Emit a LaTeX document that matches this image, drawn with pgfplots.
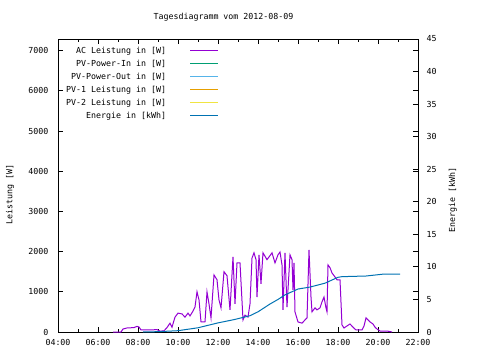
\documentclass[border=0pt]{standalone}
\usepackage{fontspec}
\setmainfont{DejaVu Sans Mono}
\usepackage{pgfplots}
\pgfplotsset{compat=1.18}
\definecolor{cAC}{HTML}{9400D3}
\definecolor{cPIn}{HTML}{009E73}
\definecolor{cPOut}{HTML}{56B4E9}
\definecolor{cPVa}{HTML}{E69F00}
\definecolor{cPVb}{HTML}{F0E442}
\definecolor{cEn}{HTML}{0072B2}
\pgfplotstableread{
h W
6.75 0
7.15 0
7.25 75
7.45 100
7.8 110
7.95 140
8.05 125
8.15 50
8.6 50
8.95 60
9.1 20
9.3 30
9.45 110
9.6 220
9.7 120
9.85 370
10.0 470
10.2 450
10.35 370
10.5 470
10.6 400
10.75 520
10.85 620
10.95 1000
11.05 800
11.15 250
11.35 250
11.45 1000
11.55 700
11.65 350
11.8 1420
11.95 1300
12.05 800
12.15 600
12.3 1500
12.45 1400
12.6 550
12.75 1870
12.85 700
12.95 1720
13.1 1720
13.25 300
13.35 420
13.5 370
13.6 700
13.7 1840
13.8 1970
13.9 1800
13.95 870
14.05 1920
14.15 1200
14.25 1970
14.45 1800
14.6 1900
14.7 1970
14.85 1720
15.0 1920
15.1 1990
15.2 1670
15.25 550
15.35 1970
15.45 620
15.6 1920
15.7 1800
15.75 1050
15.8 1720
15.85 500
16.0 250
16.2 220
16.35 300
16.45 350
16.55 2040
16.65 870
16.7 500
16.85 600
16.95 550
17.1 600
17.2 750
17.3 870
17.4 600
17.45 500
17.5 1670
17.6 1600
17.7 1470
17.85 1370
17.95 1300
18.1 1300
18.2 175
18.3 100
18.45 150
18.6 200
18.75 120
18.9 50
19.2 50
19.3 150
19.4 350
19.5 300
19.6 250
19.75 200
19.85 120
19.95 75
20.1 25
20.5 20
20.7 0
}\acdata
\pgfplotstableread{
h E
8.25 0
9.0 0.05
10.0 0.2
11.0 0.65
12.0 1.4
12.8 1.9
13.6 2.5
14.0 3.1
14.6 4.3
15.0 5.0
15.35 5.7
16.0 6.6
16.6 6.9
17.35 7.5
18.0 8.4
18.2 8.5
19.4 8.6
20.0 8.8
20.3 8.9
21.1 8.9
}\endata
\begin{document}
\begin{tikzpicture}[x=1pt,y=1pt,font=\fontsize{8.3}{10}\selectfont]
\useasboundingbox (0,0) rectangle (480,360);
\node at (223.5,343) {Tagesdiagramm vom 2012-08-09};
\begin{axis}[at={(58pt,28pt)}, anchor=south west, scale only axis,
  width=360pt, height=293pt,
  xmin=4, xmax=22, ymin=0, ymax=7290,
  xtick={4,6,...,22},
  xticklabels={04:00,06:00,08:00,10:00,12:00,14:00,16:00,18:00,20:00,22:00},
  minor xtick={5,7,...,21},
  ytick={0,1000,...,7000},
  tick align=inside,
  major tick length=5pt, minor tick length=3pt,
  every tick/.style={black, line width=0.8pt},
  axis line style={line width=1pt},
  /pgf/number format/assume math mode=true,
  scaled y ticks=false,
  yticklabel style={/pgf/number format/1000 sep={}, xshift=-6pt},
  xticklabel style={yshift=-4pt},
  ylabel={Leistung [W]},
  ylabel style={at={(axis description cs:-0.133,0.47)}, anchor=center},
  legend cell align=right,
  legend plot pos=right,
  legend image code/.code={\path[draw=none,fill=none] (0pt,-2pt) rectangle (0pt,2pt); \draw[line width=1.3pt] (22pt,0pt) -- (50pt,0pt);},
  legend style={draw=none, fill=none, at={(axis description cs:0.008,0.99)}, anchor=north west,
    row sep=0pt, nodes={text height=7pt, text depth=2pt, inner ysep=2pt, inner xsep=2pt}},
]
\addplot[color=cAC, line width=1pt] table[x=h,y=W] {\acdata};
\addlegendentry{AC Leistung in [W]}
\addlegendimage{color=cPIn, line width=1pt}
\addlegendentry{PV-Power-In in [W]}
\addlegendimage{color=cPOut, line width=1pt}
\addlegendentry{PV-Power-Out in [W]}
\addlegendimage{color=cPVa, line width=1pt}
\addlegendentry{PV-1 Leistung in [W]}
\addlegendimage{color=cPVb, line width=1pt}
\addlegendentry{PV-2 Leistung in [W]}
\addlegendimage{color=cEn, line width=1pt}
\addlegendentry{Energie in [kWh]}
\end{axis}
\begin{axis}[at={(58pt,28pt)}, anchor=south west, scale only axis,
  width=360pt, height=293pt,
  xmin=4, xmax=22, ymin=0, ymax=45,
  axis x line=none, axis y line*=right,
  ytick={0,5,...,45},
  tick align=inside,
  major tick length=5pt,
  every tick/.style={black, line width=0.8pt},
  axis line style={line width=1pt, -},
  /pgf/number format/assume math mode=true,
  yticklabel style={xshift=5pt},
  ylabel={Energie [kWh]},
  ylabel style={at={(axis description cs:1.097,0.45)}, anchor=center, rotate=0},
]
\addplot[color=cEn, line width=1pt] table[x=h,y=E] {\endata};
\end{axis}
\end{tikzpicture}
\end{document}
